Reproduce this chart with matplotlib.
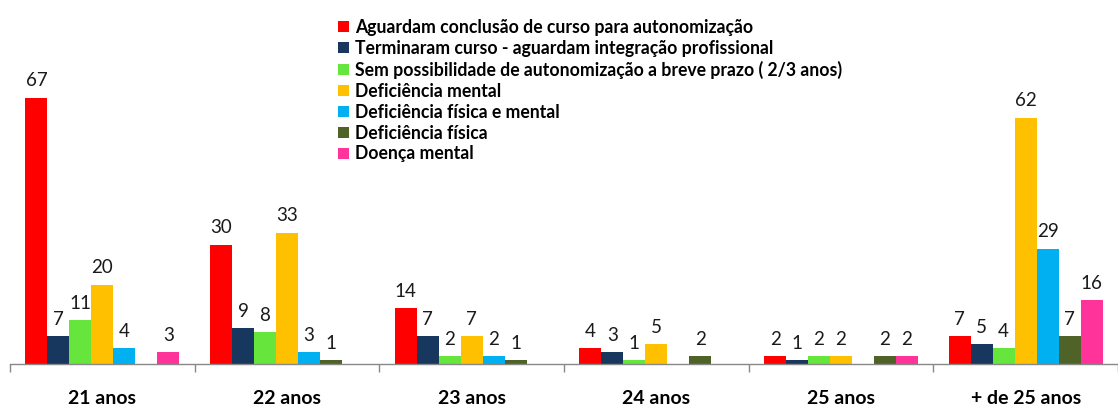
import matplotlib
matplotlib.use("Agg")
import matplotlib.pyplot as plt
import numpy as np

categories = ["21 anos", "22 anos", "23 anos", "24 anos", "25 anos", "+ de 25 anos"]
series_names = [
    "Aguardam conclusão de curso para autonomização",
    "Terminaram curso - aguardam integração profissional",
    "Sem possibilidade de autonomização a breve prazo ( 2/3 anos)",
    "Deficiência mental",
    "Deficiência física e mental",
    "Deficiência física",
    "Doença mental",
]
colors = ["#FF0000", "#17375E", "#66E63C", "#FFC000", "#00B0F0", "#4F6228", "#FF3399"]
values = [
    [67, 30, 14, 4, 2, 7],
    [7, 9, 7, 3, 1, 5],
    [11, 8, 2, 1, 2, 4],
    [20, 33, 7, 5, 2, 62],
    [4, 3, 2, None, None, 29],
    [None, 1, 1, 2, 2, 7],
    [3, None, None, None, 2, 16],
]

plt.rcParams['font.family'] = ['Lato', 'DejaVu Sans']

fig = plt.figure(figsize=(11.18, 4.07), dpi=100)
ax = fig.add_axes([10/1118, 43/407, 1 - 10/1118, 318/407])

n = len(series_names)
w = 1 / 8.4
x = np.arange(len(categories))
handles = []
for i, (name, vals, c) in enumerate(zip(series_names, values, colors)):
    v = np.array([np.nan if a is None else a for a in vals], dtype=float)
    pos = x + (i - (n - 1) / 2) * w
    b = ax.bar(pos, np.nan_to_num(v), width=w, color=c, label=name, linewidth=0)
    handles.append(b)
    for p, val in zip(pos, v):
        if not np.isnan(val):
            ax.annotate(f"{int(val)}", (p, val), xytext=(0, 6), textcoords="offset points",
                        ha="center", va="bottom", fontsize=13.5, color="#1a1a1a")

ax.set_xlim(-0.5, len(categories) - 0.5)
ax.set_ylim(0, 80)
for s in ["top", "right", "left"]:
    ax.spines[s].set_visible(False)
ax.spines["bottom"].set_color("#888888")
ax.spines["bottom"].set_linewidth(1)
ax.set_yticks([])
ax.set_xticks(x)
ax.set_xticklabels(categories, fontsize=14, fontweight="bold", color="#000000")
ax.tick_params(axis="x", which="major", length=0, pad=19)
ax.set_xticks(np.arange(-0.5, len(categories)), minor=True)
ax.tick_params(axis="x", which="minor", length=6, color="#888888", width=1)

leg = fig.legend(handles=handles, loc="upper left", bbox_to_anchor=(338/1118, 1 - 19/407),
                 frameon=False, prop={"size": 12.7, "weight": "bold"},
                 handlelength=0.6, handleheight=0.6, handletextpad=0.35,
                 labelspacing=0.22, borderaxespad=0, borderpad=0)

fig.savefig("out.png", dpi=100)
